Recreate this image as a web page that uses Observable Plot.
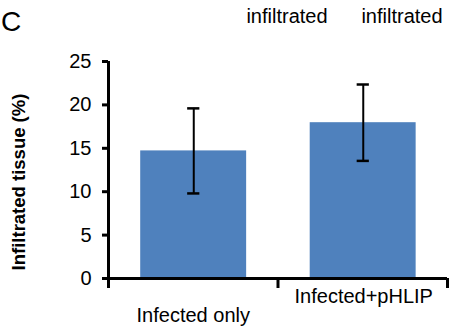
<!DOCTYPE html>
<html>
<head>
<meta charset="utf-8">
<script src="https://cdn.jsdelivr.net/npm/d3@7"></script>
<script src="https://cdn.jsdelivr.net/npm/@observablehq/plot@0.6"></script>
<style>
  html, body { margin: 0; padding: 0; background: white; }
  #chart { width: 450px; height: 329px; overflow: hidden; }
</style>
</head>
<body>
<div id="chart"></div>
<script>
const panelLabel = "C";
const headerBottom = ["infiltrated", "infiltrated"];
const categories = ["Infected only", "Infected+pHLIP"];
const values = [14.7, 17.95];
const errors = [4.9, 4.4];
const yTicks = [0, 5, 10, 15, 20, 25];
const yLabel = "Infiltrated tissue (%)";

const rows = categories.map((c, i) => ({c, i, v: values[i], e: errors[i]}));
const font = "'Liberation Sans', Arial, Helvetica, sans-serif";
const labelDy = [43, 24];
const labelDx = [0, 1];

const chart = Plot.plot({
  width: 450,
  height: 329,
  marginLeft: 108,
  marginRight: 3,
  marginTop: 61,
  marginBottom: 51,
  x: {domain: [0, categories.length], axis: null},
  y: {domain: [0, 25], axis: null},
  style: {fontFamily: font, fontSize: "20px", color: "black", background: "white"},
  marks: [
    Plot.rectY(rows, {x1: d => d.i + 0.19, x2: d => d.i + 0.815, y1: 0, y2: "v", fill: "#4F81BD"}),
    Plot.ruleX(rows, {x: d => d.i + 0.503, y1: d => d.v - d.e, y2: d => d.v + d.e, stroke: "black", strokeWidth: 2}),
    Plot.ruleY(rows, {y: d => d.v + d.e, x1: d => d.i + 0.503 - 0.036, x2: d => d.i + 0.503 + 0.036, stroke: "black", strokeWidth: 2.5}),
    Plot.ruleY(rows, {y: d => d.v - d.e, x1: d => d.i + 0.503 - 0.036, x2: d => d.i + 0.503 + 0.036, stroke: "black", strokeWidth: 2.5}),
    Plot.ruleX([0], {y1: 0, y2: 25, stroke: "black", strokeWidth: 3}),
    Plot.ruleY([0], {stroke: "black", strokeWidth: 3}),
    Plot.axisY({ticks: yTicks, tickSize: 6, strokeWidth: 3, fontSize: 20, tickPadding: 11, tickFormat: d => String(d), label: null}),
    Plot.axisX({ticks: d3.range(categories.length + 1), tickSize: 10, strokeWidth: 3, tickFormat: () => "", label: null}),
    ...rows.map((r, k) => Plot.text([r], {x: d => d.i + 0.5, y: 0, text: "c", dy: labelDy[k], dx: labelDx[k], fontSize: 20, lineAnchor: "bottom", textAnchor: "middle", fill: "black"})),
    Plot.text([yLabel], {frameAnchor: "left", dx: -89, dy: 12, rotate: -90, text: d => d, textAnchor: "middle", lineAnchor: "middle", fontSize: 18.5, fontWeight: "bold", fill: "black"})
  ]
});

document.getElementById("chart").appendChild(chart);

const svg = d3.select(chart);
svg.append("text").attr("x", 11).attr("y", 31).attr("font-size", 28).attr("font-family", font).attr("fill", "black").text(panelLabel);
const headerX = [287, 402];
headerBottom.forEach((t, k) => {
  svg.append("text").attr("x", headerX[k]).attr("y", 23).attr("text-anchor", "middle").attr("font-size", 20).attr("font-family", font).attr("fill", "black").text(t);
});
</script>
</body>
</html>
